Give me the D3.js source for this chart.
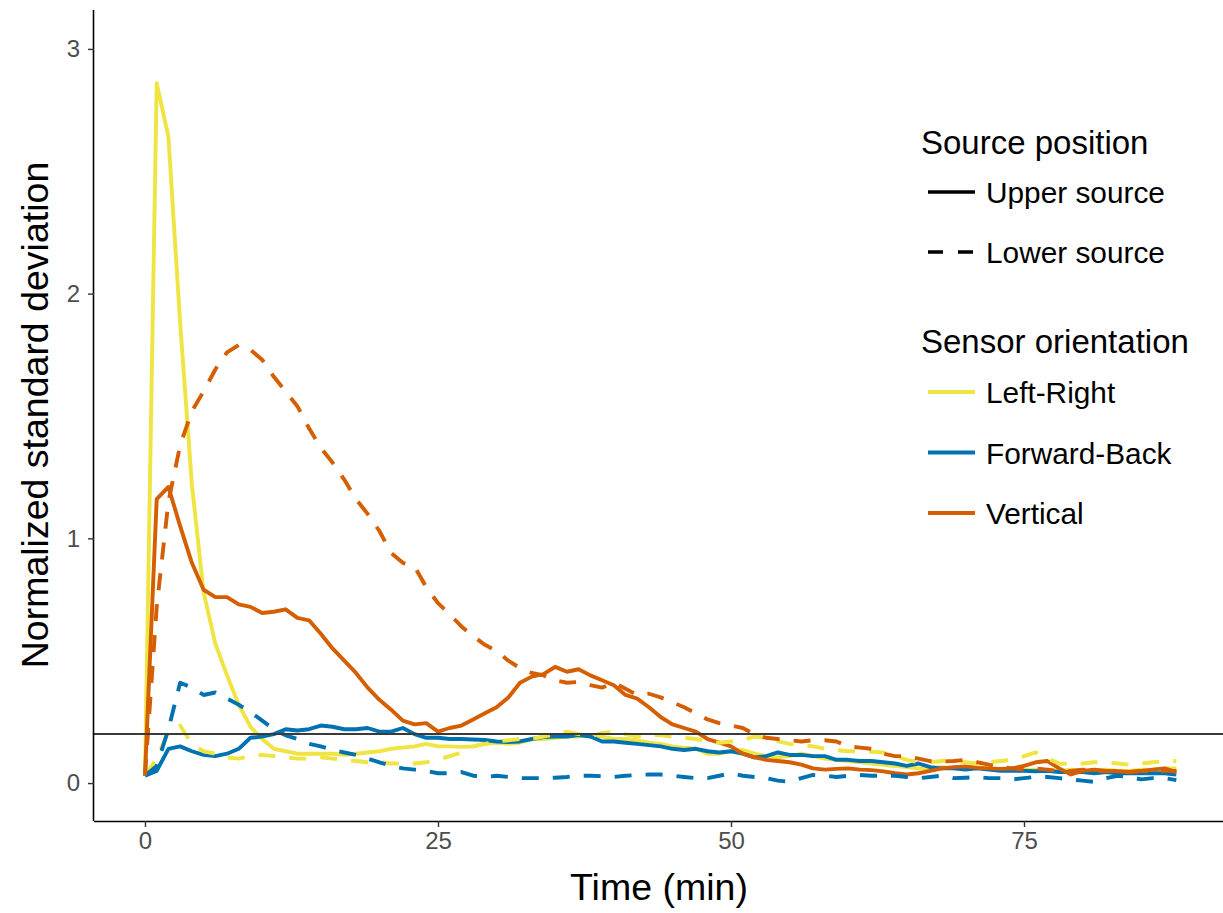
<!DOCTYPE html>
<html>
<head>
<meta charset="utf-8">
<script src="https://cdn.jsdelivr.net/npm/d3@7"></script>
<style>
  html, body { margin: 0; padding: 0; background: #fff; }
  svg { display: block; font-family: "Liberation Sans", Arial, Helvetica, sans-serif; }
</style>
</head>
<body>
<svg id="chart" width="1223" height="913"></svg>
<script>
// Time in minutes since the start of the run (one sample per minute)
const minutes = d3.range(0, 89);

// Normalized standard deviation, one array per orientation / source position
const leftRightUpper = [0.03,2.86,2.64,1.88,1.22,0.78,0.57,0.44,0.32,0.23,0.18,0.14,0.13,0.12,0.12,0.12,0.12,0.115,0.12,0.125,
  0.13,0.14,0.145,0.15,0.16,0.15,0.15,0.148,0.15,0.16,0.165,0.16,0.165,0.18,0.18,0.185,0.19,0.19,0.195,0.19,
  0.18,0.18,0.175,0.165,0.16,0.15,0.145,0.14,0.12,0.12,0.13,0.135,0.12,0.11,0.105,0.11,0.12,0.11,0.10,0.095,
  0.09,0.085,0.08,0.075,0.07,0.065,0.06,0.06,0.065,0.06,0.06,0.065,0.06,0.055,0.06,0.055,0.055,0.05,0.05,0.055,
  0.05,0.05,0.055,0.05,0.05,0.055,0.055,0.06,0.06];
const leftRightLower = [0.03,0.10,0.21,0.235,0.16,0.13,0.12,0.105,0.10,0.11,0.115,0.11,0.105,0.10,0.10,0.105,0.10,0.095,0.09,0.085,
  0.085,0.08,0.08,0.08,0.085,0.095,0.11,0.125,0.15,0.16,0.17,0.175,0.18,0.18,0.19,0.20,0.21,0.20,0.19,0.205,
  0.21,0.20,0.19,0.20,0.195,0.19,0.185,0.18,0.17,0.165,0.17,0.175,0.19,0.185,0.17,0.16,0.155,0.15,0.14,0.135,
  0.13,0.13,0.128,0.125,0.11,0.095,0.085,0.085,0.09,0.09,0.085,0.08,0.085,0.09,0.095,0.11,0.125,0.10,0.08,0.078,
  0.08,0.085,0.085,0.08,0.075,0.08,0.085,0.09,0.09];
const forwardBackUpper = [0.03,0.05,0.14,0.15,0.13,0.115,0.11,0.12,0.14,0.185,0.19,0.20,0.22,0.215,0.22,0.235,0.23,0.22,0.22,0.225,
  0.21,0.21,0.225,0.20,0.185,0.185,0.18,0.18,0.178,0.176,0.17,0.168,0.17,0.18,0.188,0.19,0.19,0.196,0.19,0.17,
  0.17,0.165,0.16,0.155,0.15,0.14,0.135,0.14,0.13,0.125,0.13,0.12,0.105,0.11,0.125,0.115,0.115,0.11,0.11,0.095,
  0.095,0.09,0.09,0.085,0.08,0.07,0.08,0.065,0.06,0.06,0.055,0.06,0.055,0.05,0.05,0.05,0.048,0.05,0.045,0.045,
  0.045,0.04,0.045,0.04,0.04,0.04,0.04,0.04,0.035];
const forwardBackLower = [0.03,0.07,0.22,0.41,0.39,0.36,0.37,0.345,0.32,0.29,0.255,0.22,0.195,0.18,0.16,0.15,0.135,0.125,0.115,0.10,
  0.085,0.07,0.06,0.055,0.05,0.04,0.04,0.045,0.03,0.025,0.03,0.025,0.02,0.02,0.02,0.022,0.025,0.03,0.03,0.028,
  0.025,0.03,0.033,0.035,0.035,0.03,0.025,0.02,0.02,0.03,0.04,0.03,0.025,0.02,0.01,0.005,0.02,0.033,0.03,0.025,
  0.03,0.033,0.03,0.03,0.03,0.025,0.02,0.025,0.03,0.02,0.022,0.025,0.02,0.02,0.015,0.02,0.025,0.025,0.02,0.015,
  0.01,0.005,0.02,0.03,0.025,0.015,0.02,0.02,0.012];
const verticalUpper = [0.03,1.16,1.21,1.05,0.90,0.79,0.76,0.76,0.73,0.72,0.695,0.70,0.71,0.675,0.665,0.61,0.55,0.50,0.45,0.39,
  0.34,0.30,0.255,0.24,0.245,0.21,0.225,0.235,0.26,0.285,0.31,0.35,0.41,0.435,0.445,0.475,0.455,0.465,0.44,0.42,
  0.40,0.36,0.345,0.31,0.27,0.24,0.225,0.21,0.18,0.165,0.15,0.12,0.105,0.095,0.09,0.085,0.075,0.06,0.055,0.058,
  0.06,0.055,0.053,0.048,0.04,0.035,0.04,0.05,0.06,0.065,0.068,0.062,0.06,0.058,0.06,0.07,0.085,0.09,0.06,0.035,
  0.05,0.055,0.05,0.048,0.045,0.05,0.055,0.06,0.045];
const verticalLower = [0.03,0.72,1.15,1.38,1.52,1.60,1.69,1.76,1.79,1.77,1.73,1.66,1.60,1.54,1.45,1.37,1.31,1.24,1.16,1.10,
  1.03,0.94,0.90,0.885,0.80,0.735,0.69,0.64,0.60,0.565,0.54,0.50,0.47,0.45,0.44,0.42,0.41,0.413,0.40,0.39,
  0.41,0.385,0.36,0.365,0.35,0.33,0.31,0.285,0.26,0.245,0.235,0.225,0.20,0.185,0.18,0.175,0.17,0.175,0.175,0.17,
  0.15,0.145,0.14,0.12,0.11,0.11,0.10,0.09,0.088,0.09,0.095,0.085,0.075,0.065,0.06,0.055,0.06,0.055,0.05,0.05,
  0.055,0.05,0.048,0.05,0.045,0.05,0.045,0.05,0.05];

// Reference threshold drawn as a horizontal rule
const threshold = [0.2];

// Tick values
const xTicks = [0, 25, 50, 75];
const yTicks = [0, 1, 2, 3];

// Legend entries
const sourceLabels = ["Upper source", "Lower source"];
const orientationLabels = ["Left-Right", "Forward-Back", "Vertical"];
const orientationColors = ["#F0E442", "#0072B2", "#D55E00"];

const series = [
  { orientation: "Left-Right", source: "Upper source", values: leftRightUpper },
  { orientation: "Forward-Back", source: "Upper source", values: forwardBackUpper },
  { orientation: "Vertical", source: "Upper source", values: verticalUpper },
  { orientation: "Left-Right", source: "Lower source", values: leftRightLower },
  { orientation: "Forward-Back", source: "Lower source", values: forwardBackLower },
  { orientation: "Vertical", source: "Lower source", values: verticalLower }
];

const svg = d3.select("#chart");
const panel = { left: 94, right: 1223, top: 10, bottom: 821 };

const x = d3.scaleLinear().domain([-4.35, 91.98]).range([panel.left, panel.right]);
const y = d3.scaleLinear().domain([-0.155, 3.159]).range([panel.bottom, panel.top]);

const color = d3.scaleOrdinal().domain(orientationLabels).range(orientationColors);
const dash = d3.scaleOrdinal().domain(sourceLabels).range(["none", "17,14"]);

const plot = svg.append("g");
plot.append("clipPath").attr("id", "panel-clip")
  .append("rect")
  .attr("x", panel.left).attr("y", panel.top)
  .attr("width", panel.right - panel.left).attr("height", panel.bottom - panel.top);

const line = d3.line()
  .x((d, i) => x(minutes[i]))
  .y(d => y(d));

plot.append("g").attr("clip-path", "url(#panel-clip)")
  .selectAll("path.series")
  .data(series)
  .join("path")
  .attr("class", "series")
  .attr("d", d => line(d.values))
  .attr("fill", "none")
  .attr("stroke", d => color(d.orientation))
  .attr("stroke-width", 3.9)
  .attr("stroke-linejoin", "round")
  .attr("stroke-dasharray", d => dash(d.source));

// Threshold rule
plot.selectAll("line.threshold")
  .data(threshold)
  .join("line")
  .attr("class", "threshold")
  .attr("x1", panel.left).attr("x2", panel.right)
  .attr("y1", d => y(d)).attr("y2", d => y(d))
  .attr("stroke", "#3a3a3a")
  .attr("stroke-width", 2);

// Axes
const xAxis = d3.axisBottom(x).tickValues(xTicks).tickSize(6).tickPadding(5).tickFormat(d3.format("d"));
const yAxis = d3.axisLeft(y).tickValues(yTicks).tickSize(6).tickPadding(8).tickFormat(d3.format("d"));

const gx = svg.append("g").attr("transform", `translate(0,${panel.bottom})`).call(xAxis);
const gy = svg.append("g").attr("transform", `translate(${panel.left},0)`).call(yAxis);

[gx, gy].forEach(g => {
  g.select(".domain").attr("stroke", "#000").attr("stroke-width", 1.6);
  g.selectAll(".tick line").attr("stroke", "#333").attr("stroke-width", 1.4);
  g.selectAll(".tick text")
    .attr("fill", "#4d4d4d")
    .style("font-size", "24px")
    .style("font-family", "Liberation Sans, Arial, sans-serif");
});
gx.select(".domain").attr("d", `M${panel.left},0.5H${panel.right}`);
gy.select(".domain").attr("d", `M-0.5,${panel.top}V${panel.bottom}`);

// Axis titles
svg.append("text")
  .attr("x", 659).attr("y", 900)
  .attr("text-anchor", "middle")
  .style("font-size", "37.5px")
  .attr("fill", "#000")
  .text("Time (min)");

svg.append("text")
  .attr("transform", "translate(48,415) rotate(-90)")
  .attr("text-anchor", "middle")
  .style("font-size", "37.5px")
  .attr("fill", "#000")
  .text("Normalized standard deviation");

// Legends
const legend = svg.append("g");
const keyX0 = 928, keyX1 = 975, labelX = 986;

legend.append("text").attr("x", 921).attr("y", 154)
  .style("font-size", "33px").attr("fill", "#000").text("Source position");

const srcRows = legend.selectAll("g.src").data(sourceLabels).join("g")
  .attr("class", "src")
  .attr("transform", (d, i) => `translate(0,${192 + i * 60})`);
srcRows.append("line")
  .attr("x1", keyX0).attr("x2", keyX1).attr("y1", 0).attr("y2", 0)
  .attr("stroke", "#000").attr("stroke-width", 3.4)
  .attr("stroke-dasharray", d => d === "Lower source" ? "15,15" : "none");
srcRows.append("text").attr("x", labelX).attr("y", 11)
  .style("font-size", "29.8px").attr("fill", "#000").text(d => d);

legend.append("text").attr("x", 921).attr("y", 353)
  .style("font-size", "33px").attr("fill", "#000").text("Sensor orientation");

const oriRows = legend.selectAll("g.ori").data(orientationLabels).join("g")
  .attr("class", "ori")
  .attr("transform", (d, i) => `translate(0,${392 + i * 60.5})`);
oriRows.append("line")
  .attr("x1", keyX0).attr("x2", keyX1).attr("y1", 0).attr("y2", 0)
  .attr("stroke", d => color(d)).attr("stroke-width", 3.9);
oriRows.append("text").attr("x", labelX).attr("y", 11)
  .style("font-size", "29.8px").attr("fill", "#000").text(d => d);
</script>
</body>
</html>
